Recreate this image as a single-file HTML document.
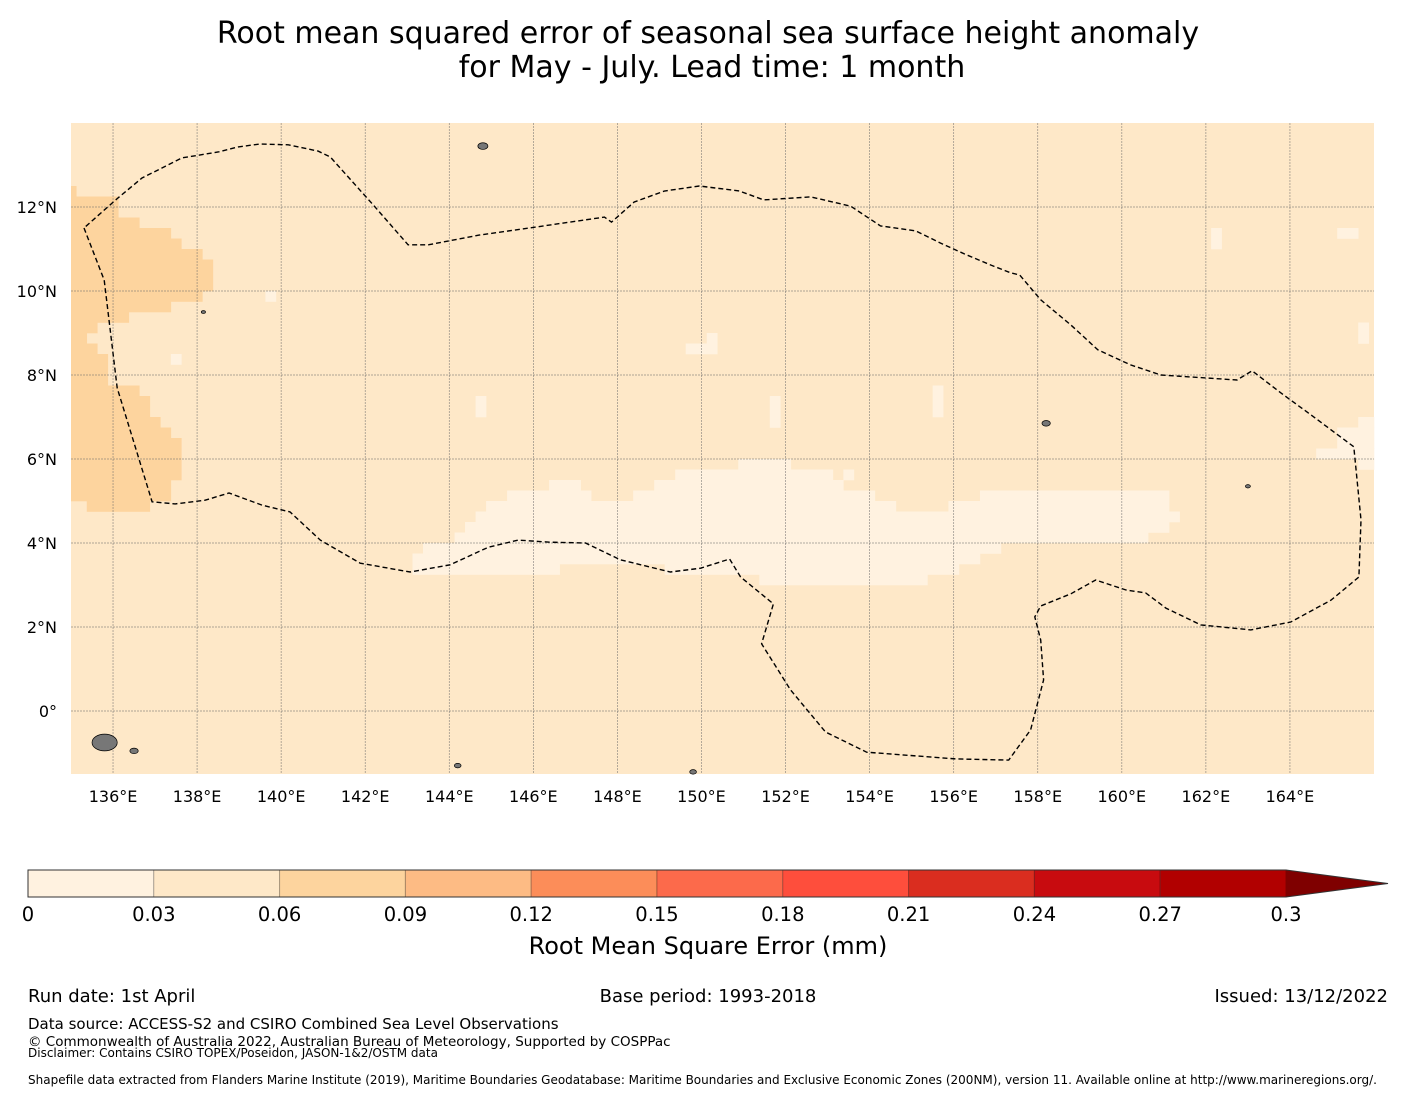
<!DOCTYPE html>
<html><head><meta charset="utf-8"><style>
body{margin:0;background:#fff;width:1416px;height:1095px;overflow:hidden;font-family:"DejaVu Sans","Liberation Sans",sans-serif;}
svg{display:block}
</style></head><body>
<svg id="c" width="1416" height="1095" xmlns="http://www.w3.org/2000/svg">
<text x="708" y="43" text-anchor="middle" font-size="30">Root mean squared error of seasonal sea surface height anomaly</text>
<text x="712" y="77" text-anchor="middle" font-size="30">for May - July. Lead time: 1 month</text>
<g id="map"></g>
<g id="cbar"></g>
<text x="708" y="954" text-anchor="middle" font-size="24">Root Mean Square Error (mm)</text>
<g font-size="18">
<text x="28" y="1002">Run date: 1st April</text>
<text x="708" y="1002" text-anchor="middle">Base period: 1993-2018</text>
<text x="1388" y="1002" text-anchor="end">Issued: 13/12/2022</text>
<text x="28" y="1029" font-size="15">Data source: ACCESS-S2 and CSIRO Combined Sea Level Observations</text>
<text x="28" y="1046" font-size="13.5">© Commonwealth of Australia 2022, Australian Bureau of Meteorology, Supported by COSPPac</text>
<text x="28" y="1057" font-size="12">Disclaimer: Contains CSIRO TOPEX/Poseidon, JASON-1&amp;2/OSTM data</text>
<text x="28" y="1084" font-size="12">Shapefile data extracted from Flanders Marine Institute (2019), Maritime Boundaries Geodatabase: Maritime Boundaries and Exclusive Economic Zones (200NM), version 11. Available online at http://www.marineregions.org/.</text>
</g>
</svg>
<script>
const NS="http://www.w3.org/2000/svg";
// data
const lonTicks=[136,138,140,142,144,146,148,150,152,154,156,158,160,162,164];
const latTicks=[12,10,8,6,4,2,0];
const cbTicks=[0,0.03,0.06,0.09,0.12,0.15,0.18,0.21,0.24,0.27,0.3];
const cbColors=["#fff2e0","#fee8c8","#fdd49e","#fdbb84","#fc8d59","#fc6a4b","#fe4e3c","#da2d1f","#c80b0f","#b10000"];
const baseValue=0.045;
// cells: [lonStart, lonEnd, latTop, latBottom, rmse]
const cellLon0=[135,135,135,135,135,135,135,135,135,135,135,135,135,135,135,135,135,135,135,135,135.375,
 150.875,149.375,153.375,146.375,148.875,145.375,148.375,156.625,158.375,144.875,155.875,144.625,144.375,144.125,143.375,143.125,143.125,149.125,151.375,
 139.625,137.375,150.125,149.625,144.625,151.625,155.5,165.125,162.125,165.625,165.625,165.125,164.625,165.625];
const cellLon1=[135.125,136.125,136.625,137.375,137.625,138.125,138.375,138.125,137.375,136.375,135.625,135.375,135.625,135.875,136.625,136.875,137.125,137.375,137.625,137.375,136.875,
 152.125,153.125,153.625,147.125,153.375,147.375,154.125,158.375,161.125,154.625,161.125,161.375,161.125,160.625,157.125,156.625,146.625,156.125,155.375,
 139.875,137.625,150.375,150.375,144.875,151.875,155.75,165.625,162.375,165.875,166,166,166,166];
const cellLatT=[12.5,12.25,11.75,11.5,11.25,11.0,10.75,10.0,9.75,9.5,9.25,9.0,8.75,8.5,7.75,7.5,7.0,6.75,6.5,5.5,5.0,
 6.0,5.75,5.75,5.5,5.5,5.25,5.25,5.25,5.25,5.0,5.0,4.75,4.5,4.25,4.0,3.75,3.5,3.5,3.25,
 10.0,8.5,9.0,8.75,7.5,7.5,7.75,11.5,11.5,9.25,7.0,6.75,6.25,6.0];
const cellLatB=[12.25,11.75,11.5,11.25,11.0,10.75,10.0,9.75,9.5,9.25,9.0,8.75,8.5,7.75,7.5,7.0,6.75,6.5,5.5,5.0,4.75,
 5.75,5.5,5.5,5.25,5.25,5.0,5.0,5.0,5.0,4.75,4.75,4.5,4.25,4.0,3.75,3.5,3.25,3.25,3.0,
 9.75,8.25,8.75,8.5,7.0,6.75,7.0,11.25,11.0,8.75,6.75,6.25,6.0,5.75];
const cellVal=[0.07,0.07,0.07,0.07,0.07,0.07,0.07,0.07,0.07,0.07,0.07,0.07,0.07,0.07,0.07,0.07,0.07,0.07,0.07,0.07,0.07,
 0.02,0.02,0.02,0.02,0.02,0.02,0.02,0.02,0.02,0.02,0.02,0.02,0.02,0.02,0.02,0.02,0.02,0.02,0.02,
 0.02,0.02,0.02,0.02,0.02,0.02,0.02,0.02,0.02,0.02,0.02,0.02,0.02,0.02];
// EEZ boundary [lon, lat]
const eezLon=[135.31,135.79,136.1,136.93,137.48,138.19,138.76,139.55,140.21,140.93,141.88,143.07,144.02,144.93,145.64,146.4,147.24,148.07,149.26,149.98,150.67,150.93,151.71,151.43,152.12,152.95,153.93,156.05,157.31,157.83,158.14,158.07,157.93,158.07,158.79,159.38,160.1,160.57,161.05,161.88,163.07,164.02,164.98,165.64,165.69,165.52,164.5,163.79,163.1,162.74,160.93,160.21,159.43,158.79,158.07,157.57,157.36,156.88,156.26,155.69,155.1,154.26,153.55,152.6,151.48,150.9,149.95,149.12,148.4,147.86,147.69,145.9,144.71,143.5,143.02,142.19,141.17,140.88,140.17,139.5,138.98,138.5,137.64,136.69,136.1,135.31];
const eezLat=[11.5,10.26,7.69,4.98,4.93,5.02,5.19,4.9,4.74,4.07,3.52,3.31,3.48,3.9,4.07,4.02,4.0,3.6,3.31,3.4,3.62,3.19,2.55,1.6,0.5,-0.5,-0.98,-1.14,-1.17,-0.45,0.74,1.69,2.24,2.5,2.79,3.12,2.88,2.81,2.45,2.05,1.93,2.12,2.64,3.19,4.55,6.29,7.05,7.57,8.1,7.88,8.0,8.24,8.6,9.19,9.79,10.38,10.43,10.62,10.88,11.14,11.43,11.55,12.02,12.24,12.17,12.38,12.5,12.38,12.12,11.64,11.76,11.5,11.33,11.1,11.1,12.05,13.19,13.33,13.48,13.5,13.43,13.31,13.17,12.69,12.2,11.5];
// islands [lon, lat, rx(deg)]
const isLon=[144.8,138.15,158.2,163.0,135.8,136.5,149.8,144.2];
const isLat=[13.45,9.5,6.85,5.35,-0.75,-0.95,-1.45,-1.3];
const isR=[0.12,0.05,0.1,0.06,0.3,0.1,0.08,0.08];

const X0=71,X1=1374,Y0=123,Y1=774;
const lon0=135,lon1=166,lat0=14,lat1=-1.5;
const xS=l=>X0+(l-lon0)/(lon1-lon0)*(X1-X0);
const yS=l=>Y0+(lat0-l)/(lat0-lat1)*(Y1-Y0);
const color=v=>{let i=Math.min(cbColors.length-1,Math.max(0,Math.floor(v/0.03+1e-9)));return cbColors[i];};
function mk(tag,attrs,parent){const e=document.createElementNS(NS,tag);for(const k in attrs)e.setAttribute(k,attrs[k]);parent.appendChild(e);return e;}
const map=document.getElementById('map');
const bg=mk('rect',{x:X0,y:Y0,width:X1-X0,height:Y1-Y0,fill:color(baseValue)},map);


for(let i=0;i<cellVal.length;i++){
 const r=mk('rect',{x:xS(cellLon0[i]),y:yS(cellLatT[i]),width:xS(cellLon1[i])-xS(cellLon0[i])+0.3,height:yS(cellLatB[i])-yS(cellLatT[i])+0.3,fill:color(cellVal[i])},map);
 
 
}
lonTicks.forEach(l=>{
 const g=mk('line',{x1:xS(l),x2:xS(l),y1:Y0,y2:Y1,stroke:'#666','stroke-width':0.7,'stroke-dasharray':'2,1','stroke-opacity':0.7},map);
 
 
 const t=mk('text',{x:xS(l),y:802,'text-anchor':'middle','font-size':16},map);t.textContent=l+'°E';
 
 
});
latTicks.forEach(l=>{
 const g=mk('line',{x1:X0,x2:X1,y1:yS(l),y2:yS(l),stroke:'#666','stroke-width':0.7,'stroke-dasharray':'2,1','stroke-opacity':0.7},map);
 
 
 const t=mk('text',{x:57,y:yS(l)+6,'text-anchor':'end','font-size':16},map);t.textContent=l===0?'0°':l+'°N';
 
 
});
for(let i=0;i<isLon.length;i++){
 const e=mk('ellipse',{cx:xS(isLon[i]),cy:yS(isLat[i]),rx:isR[i]*42,ry:isR[i]*28,fill:'#777',stroke:'#000','stroke-width':0.7},map);
 
 
}
const pts=eezLon.map((l,i)=>xS(l).toFixed(1)+','+yS(eezLat[i]).toFixed(1)).join(' ');
const pl=mk('polyline',{points:pts,fill:'none',stroke:'#000','stroke-width':1.4,'stroke-dasharray':'5,3'},map);



const cb=document.getElementById('cbar');
const CX0=28,CX1=1286,CY0=870,CY1=897;
const cx=v=>CX0+v/0.3*(CX1-CX0);
for(let i=0;i<cbColors.length;i++){
 const r=mk('rect',{x:cx(cbTicks[i]),y:CY0,width:cx(cbTicks[i+1])-cx(cbTicks[i]),height:CY1-CY0,fill:cbColors[i],stroke:'rgba(0,0,0,0.25)','stroke-width':1},cb);
 
 
}
const tri=mk('polygon',{points:`${CX1},${CY0} 1388,${(CY0+CY1)/2} ${CX1},${CY1}`,fill:'#7f0000'},cb);


const ol=mk('polygon',{points:`${CX0},${CY0} ${CX1},${CY0} 1388,${(CY0+CY1)/2} ${CX1},${CY1} ${CX0},${CY1}`,fill:'none',stroke:'#333','stroke-width':1},cb);


cbTicks.forEach(v=>{
 const t=mk('text',{x:cx(v),y:921,'text-anchor':'middle','font-size':19.5},cb);t.textContent=String(v);
 
 
});
</script>
</body></html>
